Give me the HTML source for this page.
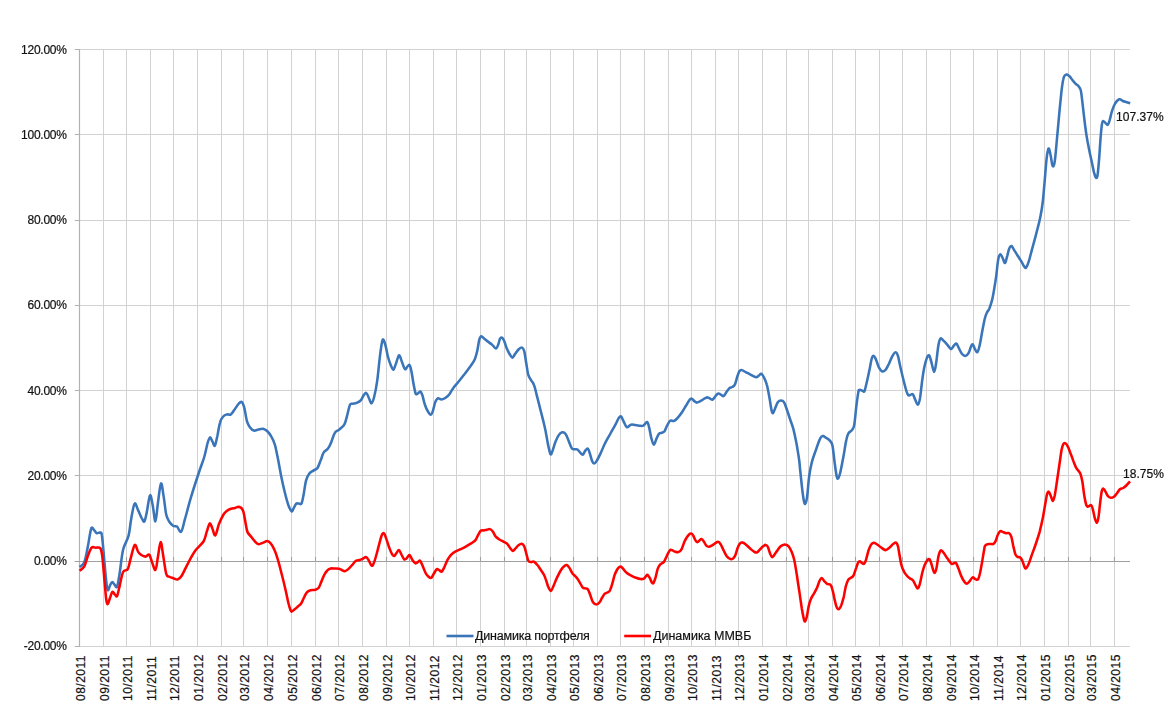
<!DOCTYPE html><html><head><meta charset="utf-8"><title>Chart</title><style>
html,body{margin:0;padding:0;background:#fff}body{width:1170px;height:724px;position:relative;overflow:hidden;font-family:"Liberation Sans",sans-serif;color:#111;-webkit-text-stroke:0.2px #111}
.yl{position:absolute;left:0;width:66.7px;text-align:right;font-size:12px;line-height:14px;height:14px;letter-spacing:-0.25px}
.xl{position:absolute;top:652.9px;width:14px;height:48px;font-size:12px;line-height:14px;writing-mode:vertical-rl;transform:rotate(180deg);text-align:left;white-space:nowrap;letter-spacing:0.5px}
.yl,.t{will-change:transform}.t{position:absolute;font-size:12px;line-height:14px;white-space:nowrap;letter-spacing:-0.2px}
</style></head><body>
<svg width="1170" height="724" viewBox="0 0 1170 724" style="position:absolute;left:0;top:0">
<line x1="79.50" y1="49.5" x2="79.50" y2="646.9" stroke="#d2d2d2" stroke-width="1"/>
<line x1="103.50" y1="49.5" x2="103.50" y2="646.9" stroke="#d2d2d2" stroke-width="1"/>
<line x1="126.50" y1="49.5" x2="126.50" y2="646.9" stroke="#d2d2d2" stroke-width="1"/>
<line x1="150.50" y1="49.5" x2="150.50" y2="646.9" stroke="#d2d2d2" stroke-width="1"/>
<line x1="173.50" y1="49.5" x2="173.50" y2="646.9" stroke="#d2d2d2" stroke-width="1"/>
<line x1="197.50" y1="49.5" x2="197.50" y2="646.9" stroke="#d2d2d2" stroke-width="1"/>
<line x1="221.50" y1="49.5" x2="221.50" y2="646.9" stroke="#d2d2d2" stroke-width="1"/>
<line x1="243.50" y1="49.5" x2="243.50" y2="646.9" stroke="#d2d2d2" stroke-width="1"/>
<line x1="267.50" y1="49.5" x2="267.50" y2="646.9" stroke="#d2d2d2" stroke-width="1"/>
<line x1="291.50" y1="49.5" x2="291.50" y2="646.9" stroke="#d2d2d2" stroke-width="1"/>
<line x1="315.50" y1="49.5" x2="315.50" y2="646.9" stroke="#d2d2d2" stroke-width="1"/>
<line x1="338.50" y1="49.5" x2="338.50" y2="646.9" stroke="#d2d2d2" stroke-width="1"/>
<line x1="362.50" y1="49.5" x2="362.50" y2="646.9" stroke="#d2d2d2" stroke-width="1"/>
<line x1="386.50" y1="49.5" x2="386.50" y2="646.9" stroke="#d2d2d2" stroke-width="1"/>
<line x1="409.50" y1="49.5" x2="409.50" y2="646.9" stroke="#d2d2d2" stroke-width="1"/>
<line x1="433.50" y1="49.5" x2="433.50" y2="646.9" stroke="#d2d2d2" stroke-width="1"/>
<line x1="456.50" y1="49.5" x2="456.50" y2="646.9" stroke="#d2d2d2" stroke-width="1"/>
<line x1="480.50" y1="49.5" x2="480.50" y2="646.9" stroke="#d2d2d2" stroke-width="1"/>
<line x1="504.50" y1="49.5" x2="504.50" y2="646.9" stroke="#d2d2d2" stroke-width="1"/>
<line x1="526.50" y1="49.5" x2="526.50" y2="646.9" stroke="#d2d2d2" stroke-width="1"/>
<line x1="550.50" y1="49.5" x2="550.50" y2="646.9" stroke="#d2d2d2" stroke-width="1"/>
<line x1="573.50" y1="49.5" x2="573.50" y2="646.9" stroke="#d2d2d2" stroke-width="1"/>
<line x1="597.50" y1="49.5" x2="597.50" y2="646.9" stroke="#d2d2d2" stroke-width="1"/>
<line x1="620.50" y1="49.5" x2="620.50" y2="646.9" stroke="#d2d2d2" stroke-width="1"/>
<line x1="644.50" y1="49.5" x2="644.50" y2="646.9" stroke="#d2d2d2" stroke-width="1"/>
<line x1="668.50" y1="49.5" x2="668.50" y2="646.9" stroke="#d2d2d2" stroke-width="1"/>
<line x1="691.50" y1="49.5" x2="691.50" y2="646.9" stroke="#d2d2d2" stroke-width="1"/>
<line x1="715.50" y1="49.5" x2="715.50" y2="646.9" stroke="#d2d2d2" stroke-width="1"/>
<line x1="738.50" y1="49.5" x2="738.50" y2="646.9" stroke="#d2d2d2" stroke-width="1"/>
<line x1="762.50" y1="49.5" x2="762.50" y2="646.9" stroke="#d2d2d2" stroke-width="1"/>
<line x1="786.50" y1="49.5" x2="786.50" y2="646.9" stroke="#d2d2d2" stroke-width="1"/>
<line x1="808.50" y1="49.5" x2="808.50" y2="646.9" stroke="#d2d2d2" stroke-width="1"/>
<line x1="832.50" y1="49.5" x2="832.50" y2="646.9" stroke="#d2d2d2" stroke-width="1"/>
<line x1="855.50" y1="49.5" x2="855.50" y2="646.9" stroke="#d2d2d2" stroke-width="1"/>
<line x1="879.50" y1="49.5" x2="879.50" y2="646.9" stroke="#d2d2d2" stroke-width="1"/>
<line x1="902.50" y1="49.5" x2="902.50" y2="646.9" stroke="#d2d2d2" stroke-width="1"/>
<line x1="926.50" y1="49.5" x2="926.50" y2="646.9" stroke="#d2d2d2" stroke-width="1"/>
<line x1="950.50" y1="49.5" x2="950.50" y2="646.9" stroke="#d2d2d2" stroke-width="1"/>
<line x1="973.50" y1="49.5" x2="973.50" y2="646.9" stroke="#d2d2d2" stroke-width="1"/>
<line x1="997.50" y1="49.5" x2="997.50" y2="646.9" stroke="#d2d2d2" stroke-width="1"/>
<line x1="1020.50" y1="49.5" x2="1020.50" y2="646.9" stroke="#d2d2d2" stroke-width="1"/>
<line x1="1044.50" y1="49.5" x2="1044.50" y2="646.9" stroke="#d2d2d2" stroke-width="1"/>
<line x1="1068.50" y1="49.5" x2="1068.50" y2="646.9" stroke="#d2d2d2" stroke-width="1"/>
<line x1="1090.50" y1="49.5" x2="1090.50" y2="646.9" stroke="#d2d2d2" stroke-width="1"/>
<line x1="1114.50" y1="49.5" x2="1114.50" y2="646.9" stroke="#d2d2d2" stroke-width="1"/>
<line x1="79.3" y1="646.50" x2="1130.0" y2="646.50" stroke="#d2d2d2" stroke-width="1"/>
<line x1="74.8" y1="646.50" x2="79.3" y2="646.50" stroke="#b2b2b2" stroke-width="1"/>
<line x1="79.3" y1="561.50" x2="1130.0" y2="561.50" stroke="#d2d2d2" stroke-width="1"/>
<line x1="74.8" y1="561.50" x2="79.3" y2="561.50" stroke="#b2b2b2" stroke-width="1"/>
<line x1="79.3" y1="475.50" x2="1130.0" y2="475.50" stroke="#d2d2d2" stroke-width="1"/>
<line x1="74.8" y1="475.50" x2="79.3" y2="475.50" stroke="#b2b2b2" stroke-width="1"/>
<line x1="79.3" y1="390.50" x2="1130.0" y2="390.50" stroke="#d2d2d2" stroke-width="1"/>
<line x1="74.8" y1="390.50" x2="79.3" y2="390.50" stroke="#b2b2b2" stroke-width="1"/>
<line x1="79.3" y1="305.50" x2="1130.0" y2="305.50" stroke="#d2d2d2" stroke-width="1"/>
<line x1="74.8" y1="305.50" x2="79.3" y2="305.50" stroke="#b2b2b2" stroke-width="1"/>
<line x1="79.3" y1="220.50" x2="1130.0" y2="220.50" stroke="#d2d2d2" stroke-width="1"/>
<line x1="74.8" y1="220.50" x2="79.3" y2="220.50" stroke="#b2b2b2" stroke-width="1"/>
<line x1="79.3" y1="134.50" x2="1130.0" y2="134.50" stroke="#d2d2d2" stroke-width="1"/>
<line x1="74.8" y1="134.50" x2="79.3" y2="134.50" stroke="#b2b2b2" stroke-width="1"/>
<line x1="79.3" y1="49.50" x2="1130.0" y2="49.50" stroke="#d2d2d2" stroke-width="1"/>
<line x1="74.8" y1="49.50" x2="79.3" y2="49.50" stroke="#b2b2b2" stroke-width="1"/>
<line x1="79.5" y1="49.0" x2="79.5" y2="646.9" stroke="#b2b2b2" stroke-width="1.2"/>
<line x1="74.8" y1="561.50" x2="1130.0" y2="561.50" stroke="#a0a0a0" stroke-width="1.1"/>
<line x1="103.50" y1="557.00" x2="103.50" y2="561.50" stroke="#a0a0a0" stroke-width="1.1"/>
<line x1="126.50" y1="557.00" x2="126.50" y2="561.50" stroke="#a0a0a0" stroke-width="1.1"/>
<line x1="150.50" y1="557.00" x2="150.50" y2="561.50" stroke="#a0a0a0" stroke-width="1.1"/>
<line x1="173.50" y1="557.00" x2="173.50" y2="561.50" stroke="#a0a0a0" stroke-width="1.1"/>
<line x1="197.50" y1="557.00" x2="197.50" y2="561.50" stroke="#a0a0a0" stroke-width="1.1"/>
<line x1="221.50" y1="557.00" x2="221.50" y2="561.50" stroke="#a0a0a0" stroke-width="1.1"/>
<line x1="243.50" y1="557.00" x2="243.50" y2="561.50" stroke="#a0a0a0" stroke-width="1.1"/>
<line x1="267.50" y1="557.00" x2="267.50" y2="561.50" stroke="#a0a0a0" stroke-width="1.1"/>
<line x1="291.50" y1="557.00" x2="291.50" y2="561.50" stroke="#a0a0a0" stroke-width="1.1"/>
<line x1="315.50" y1="557.00" x2="315.50" y2="561.50" stroke="#a0a0a0" stroke-width="1.1"/>
<line x1="338.50" y1="557.00" x2="338.50" y2="561.50" stroke="#a0a0a0" stroke-width="1.1"/>
<line x1="362.50" y1="557.00" x2="362.50" y2="561.50" stroke="#a0a0a0" stroke-width="1.1"/>
<line x1="386.50" y1="557.00" x2="386.50" y2="561.50" stroke="#a0a0a0" stroke-width="1.1"/>
<line x1="409.50" y1="557.00" x2="409.50" y2="561.50" stroke="#a0a0a0" stroke-width="1.1"/>
<line x1="433.50" y1="557.00" x2="433.50" y2="561.50" stroke="#a0a0a0" stroke-width="1.1"/>
<line x1="456.50" y1="557.00" x2="456.50" y2="561.50" stroke="#a0a0a0" stroke-width="1.1"/>
<line x1="480.50" y1="557.00" x2="480.50" y2="561.50" stroke="#a0a0a0" stroke-width="1.1"/>
<line x1="504.50" y1="557.00" x2="504.50" y2="561.50" stroke="#a0a0a0" stroke-width="1.1"/>
<line x1="526.50" y1="557.00" x2="526.50" y2="561.50" stroke="#a0a0a0" stroke-width="1.1"/>
<line x1="550.50" y1="557.00" x2="550.50" y2="561.50" stroke="#a0a0a0" stroke-width="1.1"/>
<line x1="573.50" y1="557.00" x2="573.50" y2="561.50" stroke="#a0a0a0" stroke-width="1.1"/>
<line x1="597.50" y1="557.00" x2="597.50" y2="561.50" stroke="#a0a0a0" stroke-width="1.1"/>
<line x1="620.50" y1="557.00" x2="620.50" y2="561.50" stroke="#a0a0a0" stroke-width="1.1"/>
<line x1="644.50" y1="557.00" x2="644.50" y2="561.50" stroke="#a0a0a0" stroke-width="1.1"/>
<line x1="668.50" y1="557.00" x2="668.50" y2="561.50" stroke="#a0a0a0" stroke-width="1.1"/>
<line x1="691.50" y1="557.00" x2="691.50" y2="561.50" stroke="#a0a0a0" stroke-width="1.1"/>
<line x1="715.50" y1="557.00" x2="715.50" y2="561.50" stroke="#a0a0a0" stroke-width="1.1"/>
<line x1="738.50" y1="557.00" x2="738.50" y2="561.50" stroke="#a0a0a0" stroke-width="1.1"/>
<line x1="762.50" y1="557.00" x2="762.50" y2="561.50" stroke="#a0a0a0" stroke-width="1.1"/>
<line x1="786.50" y1="557.00" x2="786.50" y2="561.50" stroke="#a0a0a0" stroke-width="1.1"/>
<line x1="808.50" y1="557.00" x2="808.50" y2="561.50" stroke="#a0a0a0" stroke-width="1.1"/>
<line x1="832.50" y1="557.00" x2="832.50" y2="561.50" stroke="#a0a0a0" stroke-width="1.1"/>
<line x1="855.50" y1="557.00" x2="855.50" y2="561.50" stroke="#a0a0a0" stroke-width="1.1"/>
<line x1="879.50" y1="557.00" x2="879.50" y2="561.50" stroke="#a0a0a0" stroke-width="1.1"/>
<line x1="902.50" y1="557.00" x2="902.50" y2="561.50" stroke="#a0a0a0" stroke-width="1.1"/>
<line x1="926.50" y1="557.00" x2="926.50" y2="561.50" stroke="#a0a0a0" stroke-width="1.1"/>
<line x1="950.50" y1="557.00" x2="950.50" y2="561.50" stroke="#a0a0a0" stroke-width="1.1"/>
<line x1="973.50" y1="557.00" x2="973.50" y2="561.50" stroke="#a0a0a0" stroke-width="1.1"/>
<line x1="997.50" y1="557.00" x2="997.50" y2="561.50" stroke="#a0a0a0" stroke-width="1.1"/>
<line x1="1020.50" y1="557.00" x2="1020.50" y2="561.50" stroke="#a0a0a0" stroke-width="1.1"/>
<line x1="1044.50" y1="557.00" x2="1044.50" y2="561.50" stroke="#a0a0a0" stroke-width="1.1"/>
<line x1="1068.50" y1="557.00" x2="1068.50" y2="561.50" stroke="#a0a0a0" stroke-width="1.1"/>
<line x1="1090.50" y1="557.00" x2="1090.50" y2="561.50" stroke="#a0a0a0" stroke-width="1.1"/>
<line x1="1114.50" y1="557.00" x2="1114.50" y2="561.50" stroke="#a0a0a0" stroke-width="1.1"/>
<path d="M79.6,567.0C80.4,566.2 82.9,565.6 84.3,562.2C85.7,558.8 86.7,552.3 87.8,546.7C89.0,541.1 90.1,531.4 91.2,528.7C92.2,525.9 93.1,529.3 94.1,530.1C95.0,530.9 95.8,532.8 96.8,533.2C97.7,533.6 99.0,532.2 99.9,532.6C100.7,532.9 101.3,531.2 101.9,535.3C102.6,539.4 103.3,549.6 104.0,557.0C104.7,564.5 105.5,574.3 106.1,579.8C106.7,585.4 107.1,589.3 107.7,590.2C108.4,591.1 109.5,586.4 110.2,585.0C111.0,583.6 111.5,581.9 112.3,581.9C113.1,581.9 114.0,584.3 114.8,585.0C115.6,585.8 116.3,588.4 117.1,586.5C117.9,584.6 118.6,579.7 119.6,573.6C120.6,567.5 121.6,556.1 123.1,549.8C124.6,543.5 127.1,541.3 128.5,535.9C129.9,530.6 130.3,523.1 131.4,517.7C132.4,512.3 133.5,504.8 134.7,503.6C135.8,502.4 137.0,508.0 138.2,510.4C139.4,512.8 140.7,516.3 141.7,518.1C142.8,519.9 143.6,522.5 144.4,521.4C145.3,520.3 146.0,515.8 146.9,511.5C147.8,507.1 149.1,496.3 150.0,495.3C151.0,494.2 151.8,500.9 152.7,505.2C153.6,509.6 154.6,521.7 155.4,521.4C156.3,521.1 157.0,509.5 157.9,503.2C158.8,496.8 160.0,484.5 161.0,483.5C162.0,482.4 162.8,491.8 163.7,496.9C164.6,502.1 165.3,510.4 166.2,514.6C167.1,518.7 168.1,519.9 169.3,521.8C170.5,523.7 172.2,525.2 173.4,526.0C174.7,526.8 175.7,525.6 177.0,526.6C178.2,527.5 179.8,532.9 181.1,531.8C182.4,530.6 183.2,525.5 184.8,519.7C186.5,513.9 188.6,505.1 191.1,496.9C193.5,488.8 197.2,477.6 199.4,471.0C201.5,464.5 202.7,462.2 204.1,457.5C205.5,452.9 206.6,446.4 207.6,443.0C208.6,439.7 209.3,437.7 210.1,437.4C210.9,437.2 211.6,440.0 212.4,441.4C213.2,442.8 214.0,446.7 214.9,445.7C215.7,444.8 216.5,439.7 217.4,435.8C218.2,431.9 219.1,425.5 220.1,422.3C221.0,419.1 222.0,417.8 223.2,416.5C224.3,415.2 225.6,414.8 226.9,414.4C228.2,414.1 229.6,415.3 230.8,414.4C232.1,413.6 233.2,411.3 234.6,409.5C235.9,407.7 237.5,404.9 238.7,403.7C239.9,402.4 240.9,401.3 241.8,402.0C242.7,402.7 243.4,404.6 244.3,407.8C245.2,411.0 246.0,418.0 247.0,421.3C248.0,424.6 249.0,425.9 250.1,427.5C251.2,429.0 252.5,430.3 253.8,430.6C255.2,430.9 256.9,429.9 258.4,429.6C259.9,429.2 261.5,428.5 263.0,428.7C264.4,429.0 265.7,429.7 267.1,431.0C268.5,432.3 269.9,434.1 271.2,436.4C272.6,438.7 273.8,441.2 275.0,445.1C276.1,449.0 277.0,454.4 278.1,459.6C279.1,464.8 280.1,470.7 281.2,476.2C282.3,481.7 283.7,487.9 284.9,492.8C286.1,497.6 287.3,502.1 288.4,505.2C289.6,508.3 290.7,510.9 291.6,511.4C292.4,511.9 292.9,509.6 293.6,508.3C294.4,507.0 295.3,504.6 296.1,503.8C297.0,503.0 297.9,503.6 298.8,503.5C299.7,503.5 300.7,505.0 301.5,503.5C302.3,502.1 302.8,498.7 303.6,494.8C304.3,491.0 305.1,483.9 306.1,480.3C307.0,476.8 308.0,475.3 309.2,473.7C310.4,472.1 311.9,471.6 313.3,470.6C314.7,469.6 316.3,469.6 317.5,467.9C318.7,466.2 319.5,463.2 320.6,460.6C321.6,458.1 322.5,454.3 323.7,452.4C324.9,450.4 326.6,450.4 327.8,448.8C329.0,447.3 329.8,445.7 330.9,443.0C332.1,440.4 333.3,435.3 334.7,433.1C336.0,430.8 337.6,431.0 339.2,429.6C340.8,428.1 343.0,427.0 344.4,424.4C345.8,421.8 346.6,417.3 347.5,414.0C348.4,410.7 349.2,406.4 350.0,404.7C350.8,403.0 351.3,404.0 352.4,403.7C353.5,403.4 355.2,403.5 356.6,402.9C358.0,402.3 359.5,401.7 360.7,400.4C361.9,399.1 362.9,396.3 363.8,395.0C364.8,393.8 365.5,392.4 366.3,393.0C367.2,393.5 368.2,396.6 369.0,398.3C369.9,400.1 370.6,403.6 371.5,403.3C372.4,403.0 373.2,400.6 374.2,396.7C375.2,392.8 376.4,386.7 377.3,380.1C378.2,373.5 379.0,363.7 379.8,357.3C380.6,350.9 381.5,344.7 382.1,341.8C382.7,338.9 382.9,339.2 383.5,339.9C384.1,340.6 384.8,343.0 385.6,345.9C386.4,348.8 387.2,354.1 388.1,357.3C388.9,360.5 389.9,363.1 390.8,365.2C391.7,367.3 392.6,370.0 393.5,369.7C394.3,369.5 395.0,365.9 396.0,363.5C396.9,361.1 398.1,355.6 399.1,355.2C400.0,354.9 400.8,359.1 401.8,361.5C402.7,363.8 403.9,368.3 404.9,369.1C405.8,370.0 406.6,367.3 407.4,366.6C408.2,366.0 408.9,364.3 409.6,365.2C410.3,366.0 410.8,368.6 411.5,371.8C412.2,375.0 412.9,380.6 413.6,384.2C414.3,387.9 415.0,392.0 415.6,393.6C416.3,395.1 416.9,393.9 417.7,393.6C418.5,393.2 419.6,391.2 420.4,391.5C421.2,391.8 421.7,393.4 422.5,395.6C423.2,397.9 424.0,402.3 425.0,405.0C425.9,407.7 427.1,410.2 428.1,411.8C429.1,413.4 430.0,414.8 430.8,414.7C431.6,414.6 432.1,413.3 432.8,411.2C433.6,409.1 434.5,404.0 435.3,401.9C436.2,399.7 436.8,398.8 437.8,398.3C438.9,397.9 440.2,399.5 441.6,399.4C442.9,399.3 444.4,398.6 445.7,397.7C447.0,396.9 448.2,395.8 449.4,394.2C450.6,392.6 451.5,390.4 453.0,388.4C454.4,386.4 456.2,384.5 458.1,382.2C460.0,379.8 462.3,377.0 464.4,374.3C466.4,371.6 468.8,368.5 470.6,366.0C472.3,363.5 473.6,361.9 474.7,359.4C475.8,356.9 476.4,354.4 477.2,351.1C478.0,347.8 478.6,342.2 479.3,339.7C480.0,337.2 480.4,336.3 481.3,336.2C482.2,336.1 483.5,338.1 484.7,339.1C485.8,340.0 486.9,340.8 488.2,341.8C489.5,342.7 491.1,343.8 492.3,344.9C493.6,346.0 494.8,348.6 495.9,348.4C496.9,348.2 497.9,345.5 498.5,343.8C499.2,342.2 499.4,339.7 500.0,338.7C500.6,337.6 501.3,337.3 502.0,337.6C502.7,338.0 503.3,339.0 504.1,340.7C504.9,342.5 505.6,345.7 506.6,348.0C507.5,350.2 508.7,352.6 509.7,354.2C510.7,355.8 511.5,357.8 512.4,357.7C513.3,357.6 514.2,355.0 515.3,353.6C516.4,352.1 517.9,350.0 519.0,349.0C520.2,348.0 521.3,347.2 522.1,347.6C523.0,347.9 523.5,348.4 524.2,351.1C524.9,353.7 525.6,359.6 526.3,363.5C527.0,367.5 527.5,372.2 528.3,374.9C529.1,377.7 530.1,378.5 531.0,380.1C532.0,381.7 533.0,382.2 533.9,384.7C534.9,387.1 535.5,390.2 536.6,394.6C537.8,399.0 539.4,405.7 540.8,411.2C542.2,416.7 543.7,422.2 544.9,427.8C546.1,433.3 547.1,439.9 548.0,444.4C549.0,448.8 549.8,453.3 550.5,454.3C551.3,455.3 551.8,452.6 552.6,450.6C553.4,448.6 554.3,444.8 555.3,442.3C556.3,439.8 557.3,437.3 558.4,435.6C559.5,434.0 560.9,432.6 562.1,432.3C563.3,432.1 564.5,432.5 565.6,434.0C566.8,435.5 567.7,438.8 568.8,441.2C569.8,443.7 570.8,447.2 571.9,448.5C572.9,449.8 574.0,449.2 575.0,449.3C575.9,449.5 576.6,449.0 577.5,449.5C578.3,450.1 579.3,451.8 580.2,452.6C581.1,453.5 582.0,455.1 582.8,454.7C583.7,454.4 584.5,451.6 585.3,450.6C586.2,449.5 587.1,448.0 587.8,448.5C588.6,449.0 589.2,451.5 589.9,453.7C590.6,455.8 591.5,459.7 592.2,461.3C592.9,463.0 593.5,463.5 594.2,463.4C595.0,463.4 595.6,462.7 596.7,460.9C597.8,459.1 599.5,455.6 600.9,452.6C602.3,449.7 603.5,446.4 605.0,443.3C606.6,440.2 608.5,437.1 610.2,434.0C611.9,430.9 614.0,427.3 615.4,424.7C616.8,422.1 617.6,419.8 618.5,418.4C619.4,417.1 620.1,415.9 621.0,416.4C621.8,416.9 622.7,419.8 623.7,421.6C624.6,423.4 625.6,426.6 626.8,427.2C628.0,427.7 629.6,425.0 630.9,424.7C632.3,424.3 633.7,424.9 635.1,425.1C636.5,425.3 637.8,425.6 639.2,425.7C640.6,425.8 642.1,426.3 643.4,425.7C644.7,425.1 646.1,421.6 647.1,422.0C648.1,422.4 648.6,425.3 649.3,428.1C650.0,430.8 650.6,435.7 651.4,438.4C652.2,441.2 653.0,444.7 653.9,444.7C654.7,444.7 655.7,440.3 656.6,438.4C657.4,436.6 658.2,434.6 659.1,433.7C659.9,432.7 660.9,433.3 661.8,432.8C662.7,432.4 663.6,432.3 664.5,431.2C665.3,430.1 666.0,427.7 666.9,426.0C667.9,424.3 668.8,421.7 670.1,420.8C671.3,420.0 672.8,421.5 674.2,420.8C675.6,420.2 677.0,418.7 678.3,417.1C679.7,415.5 681.1,413.6 682.5,411.5C683.9,409.4 685.4,406.6 686.6,404.7C687.8,402.7 688.9,400.7 689.7,399.7C690.6,398.7 691.1,398.4 691.8,398.7C692.6,398.9 693.4,400.5 694.3,401.1C695.2,401.8 695.9,402.7 697.0,402.6C698.1,402.5 699.9,401.4 701.1,400.7C702.4,400.0 703.6,399.0 704.7,398.4C705.8,397.9 706.8,397.3 707.8,397.4C708.7,397.5 709.7,398.5 710.5,398.9C711.3,399.2 711.7,400.2 712.5,399.7C713.4,399.2 714.7,397.0 715.6,396.0C716.6,394.9 717.4,393.6 718.3,393.5C719.3,393.3 720.3,394.5 721.2,394.9C722.1,395.3 722.8,396.5 723.7,396.0C724.6,395.4 725.7,393.1 726.6,391.8C727.6,390.5 728.6,388.9 729.5,388.1C730.5,387.3 731.3,387.6 732.2,387.0C733.1,386.5 734.1,386.4 734.9,384.6C735.8,382.8 736.6,378.5 737.4,376.3C738.2,374.0 738.8,372.1 739.5,371.1C740.2,370.1 740.5,369.9 741.6,370.1C742.6,370.2 744.1,371.3 745.7,372.1C747.3,372.9 749.2,374.0 750.9,374.8C752.6,375.7 754.7,377.2 756.1,377.3C757.4,377.4 758.3,375.8 759.2,375.2C760.0,374.6 760.4,373.4 761.2,373.8C762.0,374.1 763.0,375.5 763.9,377.3C764.9,379.1 765.9,381.1 766.8,384.6C767.8,388.0 768.7,393.7 769.5,398.0C770.3,402.3 771.0,408.0 771.6,410.5C772.2,413.0 772.5,413.3 773.1,413.0C773.6,412.6 774.3,410.2 775.1,408.4C775.9,406.6 776.9,403.5 777.8,402.2C778.8,400.9 779.9,400.5 780.9,400.5C782.0,400.5 783.0,400.5 784.0,402.2C785.1,403.8 786.1,407.5 787.2,410.5C788.2,413.4 789.2,416.7 790.3,419.8C791.3,422.9 792.3,425.1 793.4,429.1C794.4,433.1 795.5,438.4 796.5,443.6C797.4,448.8 798.6,456.1 799.2,460.2C799.8,464.4 799.5,464.0 800.0,468.5C800.5,473.0 801.4,482.1 802.0,487.3C802.6,492.5 803.2,497.0 803.7,499.7C804.2,502.5 804.6,504.2 805.1,503.9C805.7,503.5 806.3,502.1 807.0,497.6C807.7,493.2 808.3,482.8 809.1,476.9C809.9,471.0 810.6,466.9 811.8,462.4C812.9,457.9 814.5,453.9 815.9,450.0C817.3,446.0 818.9,440.9 820.1,438.6C821.2,436.2 821.7,436.0 822.7,435.9C823.8,435.8 825.1,437.2 826.3,438.0C827.4,438.7 828.8,439.3 829.8,440.6C830.8,442.0 831.7,442.2 832.5,445.8C833.3,449.5 833.9,457.4 834.6,462.4C835.3,467.4 836.0,473.2 836.6,475.9C837.2,478.6 837.5,479.1 838.1,478.6C838.7,478.1 839.3,476.5 840.2,472.8C841.1,469.0 842.4,461.7 843.5,456.2C844.5,450.7 845.5,443.4 846.4,439.6C847.2,435.8 847.5,434.9 848.4,433.4C849.3,431.8 850.8,431.7 851.8,430.3C852.7,428.9 853.5,429.1 854.2,425.1C855.0,421.1 855.6,412.0 856.3,406.5C857.0,400.9 857.9,394.7 858.4,391.9C858.9,389.2 858.7,390.1 859.3,389.9C859.9,389.7 861.2,390.3 862.0,390.5C862.9,390.7 863.7,392.7 864.5,391.1C865.3,389.6 866.1,384.9 867.0,381.2C867.9,377.5 868.9,372.6 869.7,368.8C870.5,365.0 871.1,360.5 871.8,358.4C872.5,356.3 873.1,355.7 873.8,355.9C874.5,356.1 875.0,357.5 875.9,359.4C876.8,361.4 878.0,365.7 879.0,367.7C880.1,369.7 881.0,371.1 882.1,371.5C883.2,371.8 884.5,371.1 885.6,369.8C886.8,368.5 887.8,365.9 889.0,363.6C890.1,361.3 891.4,357.8 892.5,355.9C893.6,354.0 894.7,352.1 895.6,352.2C896.5,352.2 897.2,353.6 898.1,356.3C898.9,359.1 899.7,364.3 900.8,368.8C901.8,373.2 903.2,379.0 904.3,383.3C905.4,387.5 906.6,392.3 907.6,394.2C908.6,396.2 909.2,395.1 910.1,395.1C911.0,395.1 911.9,393.5 912.8,394.2C913.7,395.0 914.4,398.1 915.3,399.8C916.1,401.6 917.2,405.0 918.0,404.6C918.8,404.3 919.4,401.7 920.1,397.8C920.7,393.9 921.4,386.2 922.1,381.2C922.8,376.2 923.4,371.5 924.2,367.7C925.0,363.9 925.9,360.5 926.7,358.4C927.5,356.3 928.4,354.8 929.2,355.3C929.9,355.8 930.4,358.7 931.2,361.5C932.1,364.3 933.3,371.7 934.1,371.9C935.0,372.0 935.5,366.9 936.2,362.5C936.9,358.2 937.6,349.9 938.3,346.0C939.0,342.0 939.5,339.6 940.4,338.7C941.2,337.8 942.2,339.4 943.3,340.4C944.4,341.3 945.7,342.8 947.0,344.3C948.3,345.8 949.8,348.8 950.9,349.1C952.0,349.3 952.7,346.9 953.6,346.0C954.5,345.0 955.5,343.1 956.3,343.5C957.2,343.8 957.9,346.3 958.8,348.0C959.7,349.8 960.8,352.5 961.9,353.8C963.0,355.1 964.3,356.0 965.4,355.9C966.5,355.8 967.6,354.9 968.5,353.2C969.5,351.6 970.5,347.4 971.2,346.0C972.0,344.5 972.3,344.0 972.9,344.5C973.5,345.0 974.2,347.8 975.0,349.1C975.7,350.3 976.5,352.7 977.3,352.2C978.0,351.7 978.7,349.4 979.5,346.0C980.4,342.5 981.4,335.9 982.2,331.5C983.1,327.0 984.0,322.1 984.7,319.0C985.5,315.9 986.0,314.5 986.8,312.8C987.5,311.1 988.4,310.7 989.3,308.7C990.1,306.6 991.2,303.5 992.0,300.4C992.8,297.2 993.4,293.6 994.1,289.5C994.8,285.5 995.5,281.1 996.2,276.1C996.9,271.1 997.5,263.1 998.2,259.5C998.9,255.9 999.6,254.5 1000.3,254.3C1001.1,254.1 1002.0,257.0 1002.8,258.4C1003.6,259.9 1004.3,263.5 1005.1,263.0C1005.8,262.5 1006.6,257.8 1007.4,255.3C1008.1,252.8 1008.7,249.6 1009.4,248.1C1010.1,246.5 1010.7,245.7 1011.5,246.0C1012.3,246.4 1013.2,248.5 1014.2,250.2C1015.2,251.8 1016.5,253.9 1017.7,255.8C1018.9,257.7 1020.4,259.8 1021.5,261.6C1022.5,263.3 1023.2,265.1 1023.9,266.1C1024.7,267.2 1025.2,268.5 1026.0,267.8C1026.8,267.0 1027.7,264.5 1028.7,261.6C1029.7,258.6 1030.6,254.6 1031.8,250.2C1033.0,245.7 1034.6,240.0 1036.0,234.6C1037.3,229.3 1039.0,223.6 1040.1,218.0C1041.2,212.5 1041.7,211.0 1042.8,201.5C1043.9,191.9 1045.6,169.0 1046.4,160.6C1047.3,152.2 1047.4,152.9 1047.8,150.9C1048.2,148.9 1048.5,148.0 1049.0,148.6C1049.4,149.3 1050.0,152.2 1050.5,154.8C1051.1,157.4 1051.7,162.6 1052.2,164.5C1052.8,166.3 1053.1,167.0 1053.6,166.0C1054.1,165.0 1054.6,163.4 1055.1,158.7C1055.7,153.9 1056.4,145.1 1057.1,137.4C1057.8,129.6 1058.7,120.0 1059.4,112.2C1060.1,104.5 1060.9,96.4 1061.5,91.0C1062.2,85.5 1062.7,81.9 1063.3,79.3C1063.8,76.8 1064.2,76.3 1064.8,75.5C1065.4,74.7 1066.0,74.3 1066.8,74.5C1067.6,74.7 1068.7,75.5 1069.7,76.4C1070.6,77.4 1071.6,79.1 1072.6,80.3C1073.5,81.5 1074.5,82.6 1075.5,83.6C1076.4,84.6 1077.5,85.1 1078.4,86.1C1079.2,87.2 1080.0,87.6 1080.7,90.0C1081.3,92.4 1081.7,96.0 1082.2,100.6C1082.8,105.3 1083.5,112.2 1084.2,118.0C1084.9,123.8 1085.7,130.3 1086.5,135.4C1087.3,140.6 1088.1,144.5 1089.0,149.0C1089.9,153.5 1091.0,158.5 1091.9,162.5C1092.8,166.6 1093.5,170.6 1094.2,173.2C1094.9,175.8 1095.6,177.9 1096.2,178.0C1096.7,178.2 1097.2,177.7 1097.7,174.1C1098.2,170.6 1098.8,162.9 1099.3,156.7C1099.7,150.6 1100.2,142.9 1100.6,137.4C1101.1,131.9 1101.5,126.6 1102.0,123.8C1102.4,121.1 1102.5,121.1 1103.1,120.9C1103.7,120.8 1104.7,122.2 1105.4,122.9C1106.2,123.5 1107.1,125.3 1107.8,124.8C1108.5,124.3 1109.0,122.4 1109.7,120.0C1110.4,117.6 1111.3,113.0 1112.2,110.3C1113.1,107.6 1114.2,105.2 1115.1,103.5C1116.1,101.8 1117.2,100.8 1118.0,100.0C1118.8,99.3 1119.2,99.1 1120.0,99.3C1120.8,99.4 1121.7,100.5 1122.9,101.0C1124.0,101.5 1125.5,101.8 1126.7,102.2C1128.0,102.6 1129.6,103.1 1130.2,103.3" fill="none" stroke="#3a74b9" stroke-width="2.55" stroke-linejoin="round" stroke-linecap="butt"/>
<path d="M79.6,570.7C80.4,570.0 82.9,568.8 84.3,566.4C85.7,563.9 86.6,559.1 87.8,556.0C89.1,552.9 90.3,549.1 91.6,547.7C92.9,546.3 94.3,547.6 95.7,547.7C97.2,547.8 99.2,546.8 100.3,548.3C101.4,549.9 101.7,551.8 102.4,557.0C103.0,562.3 103.8,572.9 104.4,579.8C105.1,586.8 105.6,594.4 106.1,598.5C106.6,602.6 106.9,604.3 107.5,604.3C108.2,604.3 109.0,600.6 109.8,598.5C110.6,596.4 111.5,592.6 112.3,591.9C113.1,591.2 114.0,593.7 114.8,594.4C115.6,595.0 116.3,597.4 117.1,596.0C117.9,594.6 118.6,590.1 119.6,586.1C120.6,582.1 121.7,574.8 123.1,572.0C124.5,569.1 126.6,571.2 127.8,569.1C129.1,566.9 129.4,563.1 130.5,559.1C131.7,555.1 133.4,546.2 134.7,545.0C136.0,543.8 137.1,550.2 138.2,551.9C139.3,553.5 140.1,554.2 141.3,555.0C142.5,555.8 144.2,556.7 145.5,556.6C146.8,556.6 148.2,553.8 149.2,554.6C150.2,555.3 150.6,558.6 151.7,561.2C152.7,563.7 154.4,570.6 155.4,569.9C156.5,569.2 157.0,561.7 157.9,557.0C158.8,552.4 159.7,542.5 160.6,542.1C161.5,541.8 162.2,549.7 163.1,555.0C164.0,560.2 165.2,570.0 166.2,573.6C167.2,577.3 168.1,576.0 169.3,576.7C170.5,577.5 172.1,577.7 173.4,578.2C174.8,578.6 176.2,579.8 177.6,579.4C179.0,579.0 180.0,578.4 181.7,575.7C183.5,573.0 185.7,567.4 188.0,563.3C190.2,559.1 192.6,554.5 195.2,550.8C197.8,547.2 201.6,544.6 203.5,541.5C205.4,538.4 205.6,535.2 206.6,532.2C207.6,529.2 208.8,524.2 209.7,523.5C210.6,522.8 211.3,526.1 212.2,528.0C213.1,530.0 214.2,536.0 215.3,535.3C216.5,534.6 217.6,527.5 219.0,523.9C220.5,520.3 222.5,515.9 224.2,513.5C225.9,511.1 227.6,510.3 229.4,509.4C231.2,508.4 233.6,508.3 235.0,507.9C236.4,507.5 236.9,507.0 237.8,506.9C238.8,506.8 239.6,506.7 240.5,507.4C241.4,508.0 242.4,508.7 243.2,511.1C244.0,513.4 244.6,518.0 245.3,521.5C246.0,524.9 246.5,529.3 247.4,531.8C248.3,534.3 249.6,534.7 250.9,536.4C252.2,538.0 253.8,540.2 255.1,541.6C256.3,542.9 257.2,544.1 258.6,544.2C260.0,544.4 261.9,543.1 263.3,542.6C264.8,542.1 266.2,540.9 267.5,541.1C268.8,541.3 269.8,542.3 271.0,543.8C272.2,545.4 273.5,547.5 274.7,550.5C276.0,553.5 277.3,557.7 278.5,561.9C279.7,566.0 280.8,570.7 282.0,575.3C283.2,580.0 284.5,585.4 285.5,589.8C286.6,594.3 287.4,599.0 288.2,602.3C289.0,605.6 289.7,608.0 290.3,609.5C290.9,611.1 291.0,611.6 291.7,611.6C292.4,611.6 293.5,610.3 294.4,609.5C295.4,608.7 296.4,607.9 297.5,606.8C298.7,605.8 300.2,604.9 301.3,603.3C302.4,601.7 303.2,598.9 304.2,597.1C305.1,595.3 305.8,593.5 306.9,592.3C307.9,591.2 309.0,590.7 310.4,590.3C311.8,589.8 313.8,590.3 315.2,589.8C316.5,589.4 317.6,589.2 318.7,587.8C319.7,586.4 320.4,583.8 321.4,581.6C322.3,579.3 323.4,576.2 324.5,574.3C325.5,572.4 326.6,571.1 327.6,570.2C328.6,569.2 329.5,568.8 330.7,568.5C331.9,568.2 333.5,568.5 334.8,568.5C336.2,568.5 337.8,568.4 339.0,568.7C340.2,569.0 341.1,569.7 342.1,570.2C343.1,570.6 343.8,571.4 344.8,571.2C345.8,571.0 347.0,570.2 348.3,569.1C349.6,568.0 351.2,565.9 352.5,564.6C353.7,563.2 354.8,561.6 356.0,560.8C357.2,560.1 358.6,560.3 359.7,560.0C360.9,559.7 361.8,559.2 362.8,558.8C363.9,558.3 365.0,556.9 365.9,557.1C366.9,557.3 367.6,558.5 368.4,559.8C369.3,561.1 370.4,564.0 371.1,565.0C371.8,565.9 372.0,566.1 372.6,565.4C373.2,564.7 373.8,563.1 374.6,560.8C375.4,558.5 376.4,554.8 377.3,551.5C378.2,548.2 379.2,544.0 380.0,541.1C380.8,538.3 381.4,535.6 382.1,534.3C382.8,533.0 383.5,532.7 384.2,533.5C384.9,534.3 385.5,536.6 386.4,539.1C387.3,541.6 388.5,545.7 389.5,548.4C390.5,551.1 391.8,553.8 392.6,555.0C393.5,556.2 394.0,556.1 394.7,555.6C395.4,555.2 396.0,553.5 396.8,552.5C397.5,551.6 398.2,549.7 399.0,550.1C399.8,550.4 400.7,553.1 401.5,554.6C402.4,556.1 403.3,558.5 404.0,559.2C404.8,559.9 405.4,559.2 406.1,558.8C406.8,558.3 407.5,556.9 408.2,556.3C408.8,555.7 409.1,554.6 409.8,555.2C410.5,555.8 411.4,558.4 412.3,559.8C413.2,561.1 414.4,563.0 415.4,563.3C416.4,563.7 417.3,562.3 418.1,561.9C418.9,561.5 419.4,560.1 420.2,560.8C420.9,561.5 421.7,563.9 422.7,566.0C423.6,568.1 424.7,571.4 425.8,573.3C426.8,575.1 428.0,576.2 428.9,577.0C429.8,577.8 430.5,578.4 431.4,577.8C432.2,577.2 433.2,574.7 434.1,573.3C435.0,571.8 435.9,569.6 436.8,569.1C437.6,568.6 438.4,569.7 439.2,570.2C440.1,570.6 440.9,572.1 441.7,571.6C442.6,571.1 443.5,569.0 444.4,567.0C445.4,565.1 446.4,561.9 447.5,559.8C448.7,557.7 450.1,555.9 451.3,554.6C452.5,553.3 453.3,552.8 454.8,551.9C456.2,551.1 458.1,550.4 460.0,549.4C461.9,548.5 464.3,547.4 466.2,546.3C468.1,545.3 469.8,544.2 471.4,543.2C472.9,542.2 474.4,541.5 475.5,540.1C476.7,538.7 477.3,536.5 478.2,534.9C479.1,533.4 479.8,531.5 480.7,530.8C481.6,530.0 482.8,530.5 483.8,530.4C484.8,530.2 485.9,529.9 486.9,529.7C488.0,529.5 489.1,528.8 490.0,529.1C491.0,529.4 491.8,530.2 492.7,531.4C493.7,532.6 494.5,535.0 495.6,536.4C496.7,537.7 498.0,538.6 499.4,539.5C500.7,540.3 502.2,540.8 503.5,541.6C504.8,542.3 506.1,542.8 507.2,543.8C508.3,544.9 509.2,546.8 510.1,548.0C511.1,549.2 511.9,550.8 512.8,550.9C513.7,550.9 514.6,549.3 515.5,548.4C516.5,547.5 517.4,546.0 518.4,545.3C519.5,544.5 520.8,543.7 521.7,543.8C522.7,544.0 523.5,544.7 524.2,546.3C525.0,547.9 525.6,551.2 526.3,553.6C527.0,556.0 527.6,559.4 528.4,560.8C529.1,562.2 530.0,562.0 530.9,562.1C531.7,562.2 532.9,561.4 533.5,561.5C534.2,561.5 534.4,561.9 535.0,562.5C535.6,563.1 536.5,563.8 537.4,565.0C538.4,566.1 539.5,568.0 540.5,569.5C541.6,571.1 542.8,572.7 543.7,574.3C544.5,575.9 545.0,577.0 545.7,579.1C546.5,581.1 547.3,584.8 548.2,586.7C549.1,588.7 550.0,591.1 550.9,590.9C551.8,590.7 552.6,587.9 553.6,585.7C554.6,583.5 555.8,580.1 557.1,577.4C558.4,574.7 560.1,571.4 561.3,569.5C562.5,567.6 563.4,566.8 564.4,566.0C565.3,565.3 566.0,564.6 566.9,565.0C567.7,565.3 568.6,566.6 569.6,568.1C570.5,569.5 571.5,572.1 572.7,573.7C573.8,575.2 575.3,576.1 576.4,577.4C577.5,578.7 578.3,579.9 579.3,581.6C580.3,583.2 581.6,586.2 582.6,587.4C583.6,588.5 584.2,588.1 585.1,588.4C586.0,588.7 586.9,588.1 587.8,589.2C588.7,590.3 589.4,592.8 590.3,595.0C591.1,597.2 591.9,600.7 593.0,602.3C594.0,603.8 595.4,604.4 596.5,604.4C597.6,604.4 598.7,603.4 599.6,602.3C600.5,601.2 601.2,599.2 602.1,597.7C603.0,596.3 603.9,594.4 604.8,593.6C605.7,592.7 606.6,593.1 607.5,592.5C608.4,592.0 609.2,591.6 610.0,590.3C610.7,588.9 611.3,587.2 612.0,584.7C612.8,582.2 613.7,577.9 614.5,575.3C615.4,572.8 616.4,570.9 617.2,569.5C618.0,568.2 618.7,567.5 619.3,567.0C619.9,566.6 620.3,566.3 621.0,566.6C621.6,567.0 622.5,568.1 623.4,569.1C624.4,570.2 625.3,571.8 626.6,572.8C627.8,573.9 629.1,574.5 630.7,575.3C632.3,576.2 634.2,577.2 635.9,577.8C637.5,578.4 639.3,579.0 640.6,579.1C642.0,579.2 643.2,579.0 644.2,578.4C645.1,577.9 645.7,576.3 646.2,575.8C646.8,575.2 647.1,574.5 647.7,574.9C648.3,575.4 649.3,577.2 650.0,578.4C650.7,579.7 651.3,581.8 651.8,582.6C652.4,583.4 652.9,583.9 653.5,583.0C654.1,582.1 654.9,579.7 655.6,577.4C656.3,575.1 656.9,571.3 657.6,569.1C658.4,567.0 659.1,565.8 660.1,564.6C661.2,563.4 662.7,563.4 663.9,561.9C665.0,560.4 666.0,557.5 667.0,555.6C667.9,553.7 668.9,551.4 669.7,550.5C670.5,549.5 670.9,549.9 671.7,550.1C672.6,550.2 673.5,551.2 674.6,551.5C675.7,551.8 677.2,552.5 678.4,552.1C679.5,551.8 680.5,551.1 681.5,549.4C682.4,547.8 683.4,544.1 684.2,542.2C685.0,540.3 685.6,539.3 686.4,538.0C687.2,536.8 688.3,535.3 689.1,534.5C689.9,533.7 690.5,533.3 691.2,533.5C691.9,533.6 692.5,534.4 693.2,535.5C693.9,536.6 694.6,539.0 695.3,540.1C696.0,541.2 696.7,542.1 697.4,542.2C698.1,542.2 698.8,541.0 699.5,540.5C700.1,540.0 700.8,538.9 701.5,539.1C702.3,539.3 703.2,540.6 704.0,541.8C704.8,542.9 705.6,545.1 706.5,545.9C707.4,546.7 708.2,546.8 709.2,546.7C710.2,546.6 711.3,545.9 712.3,545.3C713.3,544.7 714.4,543.8 715.4,543.2C716.4,542.6 717.2,541.6 718.1,541.8C719.0,541.9 719.7,542.8 720.6,544.2C721.5,545.7 722.7,548.5 723.7,550.5C724.7,552.5 725.6,554.8 726.8,556.3C728.0,557.7 729.8,558.9 731.0,559.2C732.1,559.4 732.9,558.8 733.7,557.9C734.4,557.1 735.0,556.0 735.7,554.2C736.4,552.4 737.0,549.2 737.8,547.4C738.6,545.5 739.5,544.0 740.3,543.2C741.0,542.4 741.5,542.4 742.4,542.6C743.2,542.8 744.3,543.4 745.5,544.2C746.7,545.1 748.2,546.8 749.6,548.0C751.0,549.2 752.5,550.7 753.8,551.5C755.0,552.3 755.8,552.9 756.9,552.5C757.9,552.2 758.9,550.5 760.0,549.4C761.0,548.4 762.1,547.1 763.1,546.3C764.1,545.6 765.0,544.8 765.8,544.9C766.6,544.9 767.2,545.4 767.8,546.7C768.5,548.1 769.2,551.2 769.9,553.0C770.6,554.7 771.2,556.8 772.0,557.1C772.8,557.4 773.5,555.8 774.5,554.6C775.4,553.4 776.6,551.4 777.6,550.1C778.6,548.7 779.7,547.2 780.7,546.3C781.7,545.4 782.9,544.9 783.8,544.7C784.7,544.4 785.1,544.4 785.9,544.7C786.7,544.9 787.6,545.2 788.6,546.3C789.5,547.5 790.5,549.3 791.5,551.5C792.4,553.7 793.3,555.8 794.2,559.8C795.1,563.8 796.0,570.0 796.9,575.3C797.7,580.7 798.5,586.4 799.4,591.9C800.2,597.4 801.1,603.9 801.8,608.5C802.6,613.1 803.4,617.1 803.9,619.3C804.5,621.4 804.7,621.8 805.2,621.3C805.6,620.9 806.2,619.3 806.8,616.8C807.4,614.3 808.0,609.4 808.7,606.4C809.3,603.5 809.9,601.3 810.8,599.2C811.6,597.0 812.8,595.5 813.9,593.6C814.9,591.7 816.0,589.9 817.0,587.8C817.9,585.6 818.9,582.1 819.7,580.5C820.5,578.9 821.0,577.9 821.7,578.0C822.5,578.1 823.3,580.1 824.2,581.1C825.2,582.1 826.3,583.5 827.3,584.0C828.4,584.6 829.6,583.7 830.4,584.7C831.3,585.6 831.9,587.6 832.5,589.8C833.2,592.1 833.7,595.4 834.3,598.1C835.0,600.9 835.7,604.6 836.4,606.4C837.1,608.3 837.7,609.5 838.5,609.3C839.3,609.2 840.3,607.4 841.2,605.4C842.0,603.4 842.9,600.2 843.7,597.1C844.4,594.0 845.0,589.6 845.7,586.7C846.5,583.9 847.3,581.4 848.2,579.9C849.1,578.4 850.0,578.6 850.9,577.8C851.8,577.1 852.7,577.0 853.6,575.3C854.5,573.7 855.3,570.2 856.1,568.1C856.8,565.9 857.5,563.6 858.2,562.5C858.8,561.3 859.2,561.2 859.8,561.2C860.4,561.3 861.2,562.5 861.9,562.9C862.6,563.4 863.3,564.5 864.0,563.9C864.7,563.4 865.3,562.0 866.0,559.8C866.8,557.5 867.7,553.0 868.5,550.5C869.4,547.9 870.1,545.9 871.0,544.7C871.9,543.4 872.7,542.9 873.7,542.8C874.7,542.7 875.6,543.5 876.8,544.2C878.0,545.0 879.5,546.4 881.0,547.4C882.4,548.3 884.1,550.1 885.5,550.1C887.0,550.1 888.4,548.4 889.7,547.4C891.0,546.3 892.3,544.6 893.4,543.8C894.5,543.0 895.3,542.2 896.1,542.6C896.8,543.0 897.4,544.1 898.0,546.3C898.5,548.5 899.1,552.6 899.6,555.6C900.2,558.7 900.6,562.0 901.3,564.6C902.0,567.2 902.8,569.3 903.8,571.2C904.7,573.1 905.8,574.5 906.9,575.8C907.9,577.0 908.9,577.7 910.0,578.4C911.0,579.2 912.2,579.4 913.1,580.5C914.0,581.7 914.8,584.0 915.6,585.3C916.4,586.6 917.1,588.7 917.8,588.4C918.6,588.1 919.2,586.3 919.9,583.6C920.7,580.9 921.6,575.4 922.4,572.2C923.2,569.1 924.0,566.6 924.9,564.6C925.8,562.5 926.8,560.7 927.6,559.8C928.4,558.9 928.9,558.7 929.5,559.2C930.0,559.7 930.5,561.1 931.1,562.9C931.7,564.7 932.6,568.5 933.2,570.2C933.8,571.8 934.3,573.2 934.8,572.8C935.4,572.5 935.9,570.9 936.5,568.1C937.1,565.2 937.9,558.6 938.6,555.6C939.3,552.7 939.9,551.1 940.6,550.5C941.4,549.9 942.2,551.1 943.1,552.1C944.1,553.2 945.2,555.2 946.2,556.7C947.3,558.2 948.4,560.0 949.4,561.2C950.3,562.5 951.0,563.7 951.8,563.9C952.7,564.2 953.8,563.0 954.5,562.9C955.3,562.8 955.5,562.3 956.2,563.3C956.9,564.4 957.8,566.9 958.7,569.1C959.5,571.3 960.4,574.3 961.4,576.4C962.3,578.4 963.3,580.3 964.3,581.6C965.2,582.8 966.1,583.7 967.0,583.6C967.9,583.6 968.7,582.2 969.7,581.1C970.6,580.1 971.6,577.8 972.6,577.4C973.5,577.1 974.4,578.7 975.3,579.1C976.2,579.4 977.2,580.4 978.0,579.5C978.7,578.5 979.3,576.2 980.0,573.3C980.7,570.3 981.4,565.8 982.1,561.9C982.8,557.9 983.7,552.1 984.2,549.4C984.7,546.8 984.5,546.7 985.0,545.9C985.5,545.1 986.2,544.7 987.0,544.4C987.8,544.1 988.9,544.1 989.9,544.0C991.0,543.9 992.3,544.5 993.2,544.0C994.2,543.5 995.0,542.4 995.7,540.9C996.5,539.3 997.0,536.3 997.8,534.7C998.6,533.0 999.4,531.6 1000.3,531.1C1001.1,530.7 1002.0,531.6 1003.0,532.0C1003.9,532.3 1005.1,533.0 1006.1,533.2C1007.1,533.4 1008.3,532.6 1009.2,533.2C1010.1,533.8 1010.6,534.6 1011.3,536.7C1012.0,538.9 1012.7,543.1 1013.3,546.1C1014.0,549.0 1014.7,552.6 1015.4,554.4C1016.1,556.1 1016.7,556.3 1017.5,556.8C1018.3,557.4 1019.4,556.8 1020.2,557.5C1021.0,558.1 1021.6,559.1 1022.3,560.6C1022.9,562.1 1023.7,565.1 1024.3,566.4C1024.9,567.7 1025.3,568.8 1026.0,568.4C1026.7,568.1 1027.5,566.6 1028.5,564.3C1029.5,562.0 1030.7,557.9 1032.0,554.4C1033.3,550.8 1034.9,546.8 1036.1,543.0C1037.4,539.2 1038.5,535.9 1039.7,531.6C1040.8,527.2 1042.0,521.9 1043.0,517.0C1043.9,512.2 1044.8,506.4 1045.5,502.5C1046.2,498.7 1046.6,495.6 1047.1,493.8C1047.7,492.0 1048.2,491.3 1048.8,491.8C1049.4,492.2 1050.2,494.8 1050.9,496.3C1051.5,497.8 1052.3,501.1 1052.9,500.9C1053.6,500.7 1054.1,498.5 1054.8,495.3C1055.4,492.1 1056.1,487.2 1056.9,481.8C1057.7,476.5 1058.8,468.5 1059.6,463.2C1060.4,457.8 1061.0,452.9 1061.6,449.7C1062.3,446.5 1062.7,445.2 1063.3,444.1C1063.9,443.0 1064.4,442.7 1065.2,443.1C1065.9,443.4 1066.8,444.5 1067.6,446.2C1068.5,447.8 1069.4,450.3 1070.3,452.8C1071.3,455.3 1072.5,458.6 1073.4,461.1C1074.4,463.6 1075.3,466.1 1076.1,467.7C1077.0,469.4 1077.9,469.9 1078.6,471.0C1079.4,472.2 1080.1,472.8 1080.7,474.6C1081.3,476.4 1081.7,478.2 1082.4,481.8C1083.0,485.4 1083.7,492.3 1084.4,496.3C1085.1,500.3 1085.8,504.0 1086.5,505.6C1087.2,507.3 1087.8,506.4 1088.6,506.3C1089.3,506.2 1090.4,504.6 1091.1,505.0C1091.8,505.4 1092.1,506.6 1092.7,508.8C1093.3,510.9 1094.1,515.7 1094.8,518.1C1095.5,520.4 1096.2,523.0 1096.9,522.8C1097.5,522.7 1098.0,520.4 1098.5,517.0C1099.1,513.7 1099.6,506.9 1100.2,502.5C1100.7,498.2 1101.3,493.5 1101.8,491.1C1102.4,488.8 1102.9,488.5 1103.5,488.7C1104.1,488.8 1104.8,490.5 1105.6,491.8C1106.3,493.0 1107.2,495.3 1108.1,496.3C1108.9,497.3 1109.8,497.7 1110.8,497.8C1111.7,497.8 1112.8,497.5 1113.9,496.7C1114.9,496.0 1115.9,494.5 1117.0,493.2C1118.0,491.9 1119.0,489.9 1120.1,489.1C1121.1,488.2 1122.2,488.6 1123.2,488.0C1124.2,487.4 1125.2,486.6 1126.3,485.5C1127.4,484.4 1129.4,482.1 1130.0,481.4" fill="none" stroke="#ff0000" stroke-width="2.55" stroke-linejoin="round" stroke-linecap="butt"/>
<line x1="446.5" y1="636" x2="473.5" y2="636" stroke="#3a74b9" stroke-width="2.6"/>
<line x1="624.2" y1="636" x2="651" y2="636" stroke="#ff0000" stroke-width="2.6"/>
</svg>
<div class="yl" style="top:639.4px">-20.00%</div>
<div class="yl" style="top:554.1px">0.00%</div>
<div class="yl" style="top:468.9px">20.00%</div>
<div class="yl" style="top:383.6px">40.00%</div>
<div class="yl" style="top:298.3px">60.00%</div>
<div class="yl" style="top:213.0px">80.00%</div>
<div class="yl" style="top:127.8px">100.00%</div>
<div class="yl" style="top:42.5px">120.00%</div>
<div class="xl" style="left:73.8px">08/2011</div>
<div class="xl" style="left:97.8px">09/2011</div>
<div class="xl" style="left:121.0px">10/2011</div>
<div class="xl" style="left:144.9px">11/2011</div>
<div class="xl" style="left:168.1px">12/2011</div>
<div class="xl" style="left:192.1px">01/2012</div>
<div class="xl" style="left:216.0px">02/2012</div>
<div class="xl" style="left:238.4px">03/2012</div>
<div class="xl" style="left:262.4px">04/2012</div>
<div class="xl" style="left:285.6px">05/2012</div>
<div class="xl" style="left:309.6px">06/2012</div>
<div class="xl" style="left:332.8px">07/2012</div>
<div class="xl" style="left:356.7px">08/2012</div>
<div class="xl" style="left:380.7px">09/2012</div>
<div class="xl" style="left:403.9px">10/2012</div>
<div class="xl" style="left:427.8px">11/2012</div>
<div class="xl" style="left:451.0px">12/2012</div>
<div class="xl" style="left:475.0px">01/2013</div>
<div class="xl" style="left:499.0px">02/2013</div>
<div class="xl" style="left:520.6px">03/2013</div>
<div class="xl" style="left:544.6px">04/2013</div>
<div class="xl" style="left:567.7px">05/2013</div>
<div class="xl" style="left:591.7px">06/2013</div>
<div class="xl" style="left:614.9px">07/2013</div>
<div class="xl" style="left:638.9px">08/2013</div>
<div class="xl" style="left:662.8px">09/2013</div>
<div class="xl" style="left:686.0px">10/2013</div>
<div class="xl" style="left:710.0px">11/2013</div>
<div class="xl" style="left:733.2px">12/2013</div>
<div class="xl" style="left:757.1px">01/2014</div>
<div class="xl" style="left:781.1px">02/2014</div>
<div class="xl" style="left:802.7px">03/2014</div>
<div class="xl" style="left:826.7px">04/2014</div>
<div class="xl" style="left:849.9px">05/2014</div>
<div class="xl" style="left:873.9px">06/2014</div>
<div class="xl" style="left:897.0px">07/2014</div>
<div class="xl" style="left:921.0px">08/2014</div>
<div class="xl" style="left:945.0px">09/2014</div>
<div class="xl" style="left:968.2px">10/2014</div>
<div class="xl" style="left:992.1px">11/2014</div>
<div class="xl" style="left:1015.3px">12/2014</div>
<div class="xl" style="left:1039.3px">01/2015</div>
<div class="xl" style="left:1063.2px">02/2015</div>
<div class="xl" style="left:1084.9px">03/2015</div>
<div class="xl" style="left:1108.8px">04/2015</div>
<div class="t" style="left:475.2px;top:629.2px;font-size:12.5px">Динамика портфеля</div>
<div class="t" style="left:653px;top:629.2px;font-size:12.5px;letter-spacing:0">Динамика ММВБ</div>
<div class="t" style="left:1116.3px;top:109.8px;letter-spacing:0.05px">107.37%</div>
<div class="t" style="left:1123px;top:467.0px;letter-spacing:0.05px">18.75%</div>
</body></html>
